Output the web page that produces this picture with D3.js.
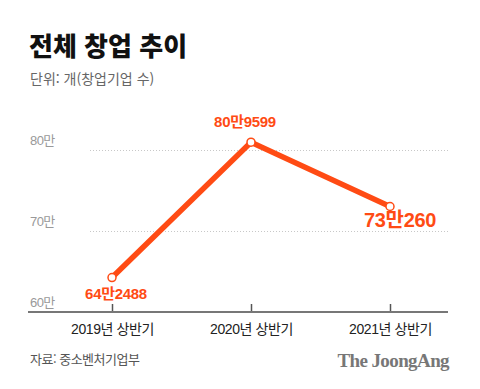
<!DOCTYPE html>
<html lang="ko">
  <head>
    <meta charset="utf-8">
    <title>전체 창업 추이</title>
    <script src="https://cdn.jsdelivr.net/npm/d3@7"></script>
    <style>
      body { margin: 0; background: #fff; }
    </style>
  </head>
  <body>
    <svg width="480" height="389" id="mainsvg"></svg>
    <script>
      const categories = ['2019년 상반기', '2020년 상반기', '2021년 상반기'];
      const values = [64.2488, 80.9599, 73.0260]; // 만 단위
      const valueLabels = ['64만2488', '80만9599', '73만260'];
      const yTicks = [60, 70, 80];
      const yTickLabels = ['60만', '70만', '80만'];

      const sans = '"Liberation Sans", "Noto Sans CJK KR", sans-serif';
      const kr = '"Noto Sans CJK KR", sans-serif';

      const svg = d3.select('#mainsvg').style('font-family', sans);
      const orange = '#ff4b14';

      // 제목
      svg.append('text').text('전체 창업 추이')
        .attr('x', 29).attr('y', 56)
        .style('font-family', kr)
        .attr('font-size', 26).attr('font-weight', 900)
        .attr('fill', '#111');
      svg.append('text').text('단위: 개(창업기업 수)')
        .attr('x', 30).attr('y', 84)
        .style('font-family', kr)
        .attr('font-size', 14).attr('fill', '#666');

      // 스케일
      const xScale = d3.scalePoint()
        .domain(categories)
        .range([112, 390]);
      const yScale = d3.scaleLinear()
        .domain([60, 80])
        .range([312, 150]);

      // 그리드
      const grid = svg.append('g');
      grid.selectAll('line').data(yTicks.slice(1)).join('line')
        .attr('x1', 90).attr('x2', 450)
        .attr('y1', d => yScale(d) + 0.5).attr('y2', d => yScale(d) + 0.5)
        .attr('stroke', '#c8c8c8').attr('stroke-dasharray', '1,2');
      grid.selectAll('text').data(yTicks).join('text')
        .text((d, i) => yTickLabels[i])
        .attr('x', 30).attr('y', d => yScale(d) - 5)
        .attr('font-size', 13).attr('fill', '#999')
        .attr('letter-spacing', -0.6);

      // x축
      const xAxis = d3.axisBottom(xScale).tickSize(0).tickPadding(12);
      const gx = svg.append('g').attr('transform', 'translate(0, 312)').call(xAxis);
      gx.select('.domain').remove();
      gx.append('line').attr('x1', 28).attr('x2', 448)
        .attr('stroke', '#777').attr('stroke-width', 2);
      gx.selectAll('.tick').append('line')
        .attr('y1', -1).attr('y2', -8)
        .attr('stroke', '#555').attr('stroke-width', 1.5);
      gx.selectAll('.tick text')
        .style('font-family', sans)
        .attr('font-size', 14).attr('fill', '#222')
        .attr('letter-spacing', -0.4);

      // 선
      const line = d3.line()
        .x((d, i) => xScale(categories[i]))
        .y(d => yScale(d));
      svg.append('path').datum(values)
        .attr('d', line)
        .attr('fill', 'none')
        .attr('stroke', orange)
        .attr('stroke-width', 5.5)
        .attr('stroke-linejoin', 'round');

      svg.selectAll('circle.pt').data(values).join('circle')
        .attr('class', 'pt')
        .attr('cx', (d, i) => xScale(categories[i]))
        .attr('cy', d => yScale(d))
        .attr('r', 4)
        .attr('fill', '#fff')
        .attr('stroke', orange)
        .attr('stroke-width', 1.5);

      // 값 라벨
      const labelPos = [
        { dx: 4, dy: 21, size: 15 },
        { dx: -6, dy: -15, size: 15 },
        { dx: 10, dy: 21, size: 20 }
      ];
      svg.selectAll('text.val').data(values).join('text')
        .attr('class', 'val')
        .text((d, i) => valueLabels[i])
        .attr('x', (d, i) => xScale(categories[i]) + labelPos[i].dx)
        .attr('y', (d, i) => yScale(d) + labelPos[i].dy)
        .attr('text-anchor', 'middle')
        .attr('font-size', (d, i) => labelPos[i].size)
        .attr('font-weight', 700)
        .attr('fill', orange)
        .attr('letter-spacing', -0.3);

      // 출처
      svg.append('text').text('자료: 중소벤처기업부')
        .attr('x', 30).attr('y', 364)
        .style('font-family', kr)
        .attr('font-size', 13).attr('fill', '#555')
        .attr('letter-spacing', -0.5);
      svg.append('text').text('The JoongAng')
        .attr('x', 449).attr('y', 367)
        .attr('text-anchor', 'end')
        .style('font-family', '"Liberation Serif", "DejaVu Serif", serif')
        .attr('font-size', 19).attr('font-weight', 700)
        .attr('fill', '#777')
        .attr('letter-spacing', -0.6);
    </script>
  </body>
</html>
